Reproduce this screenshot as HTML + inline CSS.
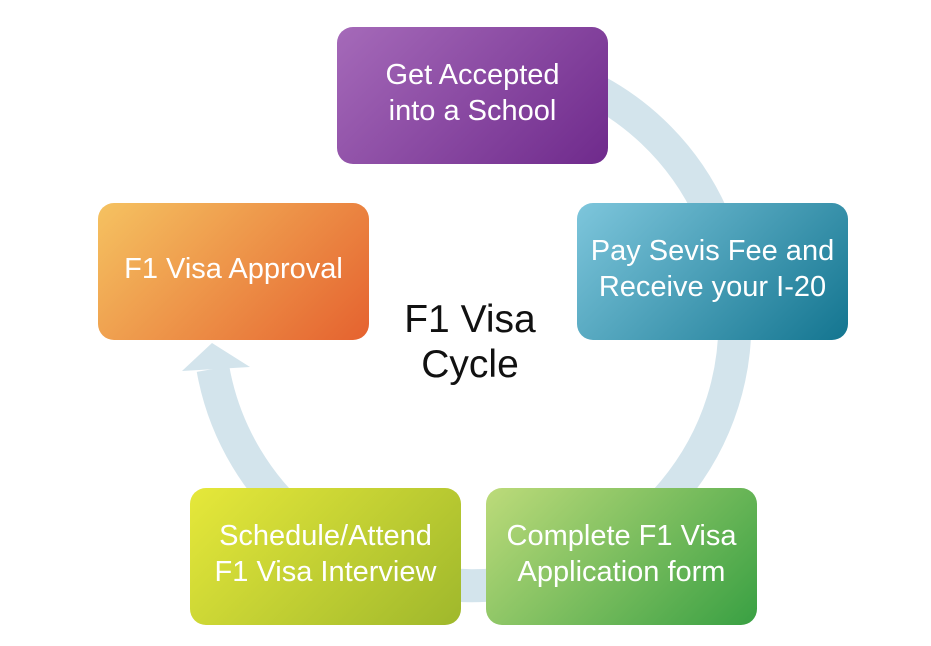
<!DOCTYPE html>
<html><head><meta charset="utf-8"><style>
body{margin:0;width:931px;height:646px;background:#fff;overflow:hidden;position:relative;font-family:"Liberation Sans",sans-serif}
.b{position:absolute;width:271px;height:137px;border-radius:16px;color:#fff;font-size:29px;line-height:36px;display:flex;align-items:center;justify-content:center;text-align:center;box-sizing:border-box;padding-bottom:5px;white-space:nowrap}
</style></head><body>
<svg width="931" height="646" style="position:absolute;left:0;top:0">
<path d="M472 59.7 A263 263 0 1 1 213 369" fill="none" stroke="#d3e4ec" stroke-width="33"/>
<polygon points="212,343 182,371 250,367" fill="#d3e4ec"/>
</svg>
<div class="b" style="left:337px;top:27px;background:linear-gradient(135deg,#a56ab9,#6f2a8c)">Get Accepted<br>into a School</div>
<div class="b" style="left:577px;top:203px;background:linear-gradient(135deg,#7ec6dc,#137590)">Pay Sevis Fee and<br>Receive your I-20</div>
<div class="b" style="left:98px;top:203px;background:linear-gradient(135deg,#f5c261,#e5622f)">F1 Visa Approval</div>
<div class="b" style="left:190px;top:488px;background:linear-gradient(135deg,#e6e83a,#9fb82c)">Schedule/Attend<br>F1 Visa Interview</div>
<div class="b" style="left:486px;top:488px;background:linear-gradient(135deg,#bddb7a,#39a043)">Complete F1 Visa<br>Application form</div>
<div style="position:absolute;left:370px;top:297px;width:200px;text-align:center;font-size:39px;line-height:45px;color:#111">F1 Visa<br>Cycle</div>
</body></html>
